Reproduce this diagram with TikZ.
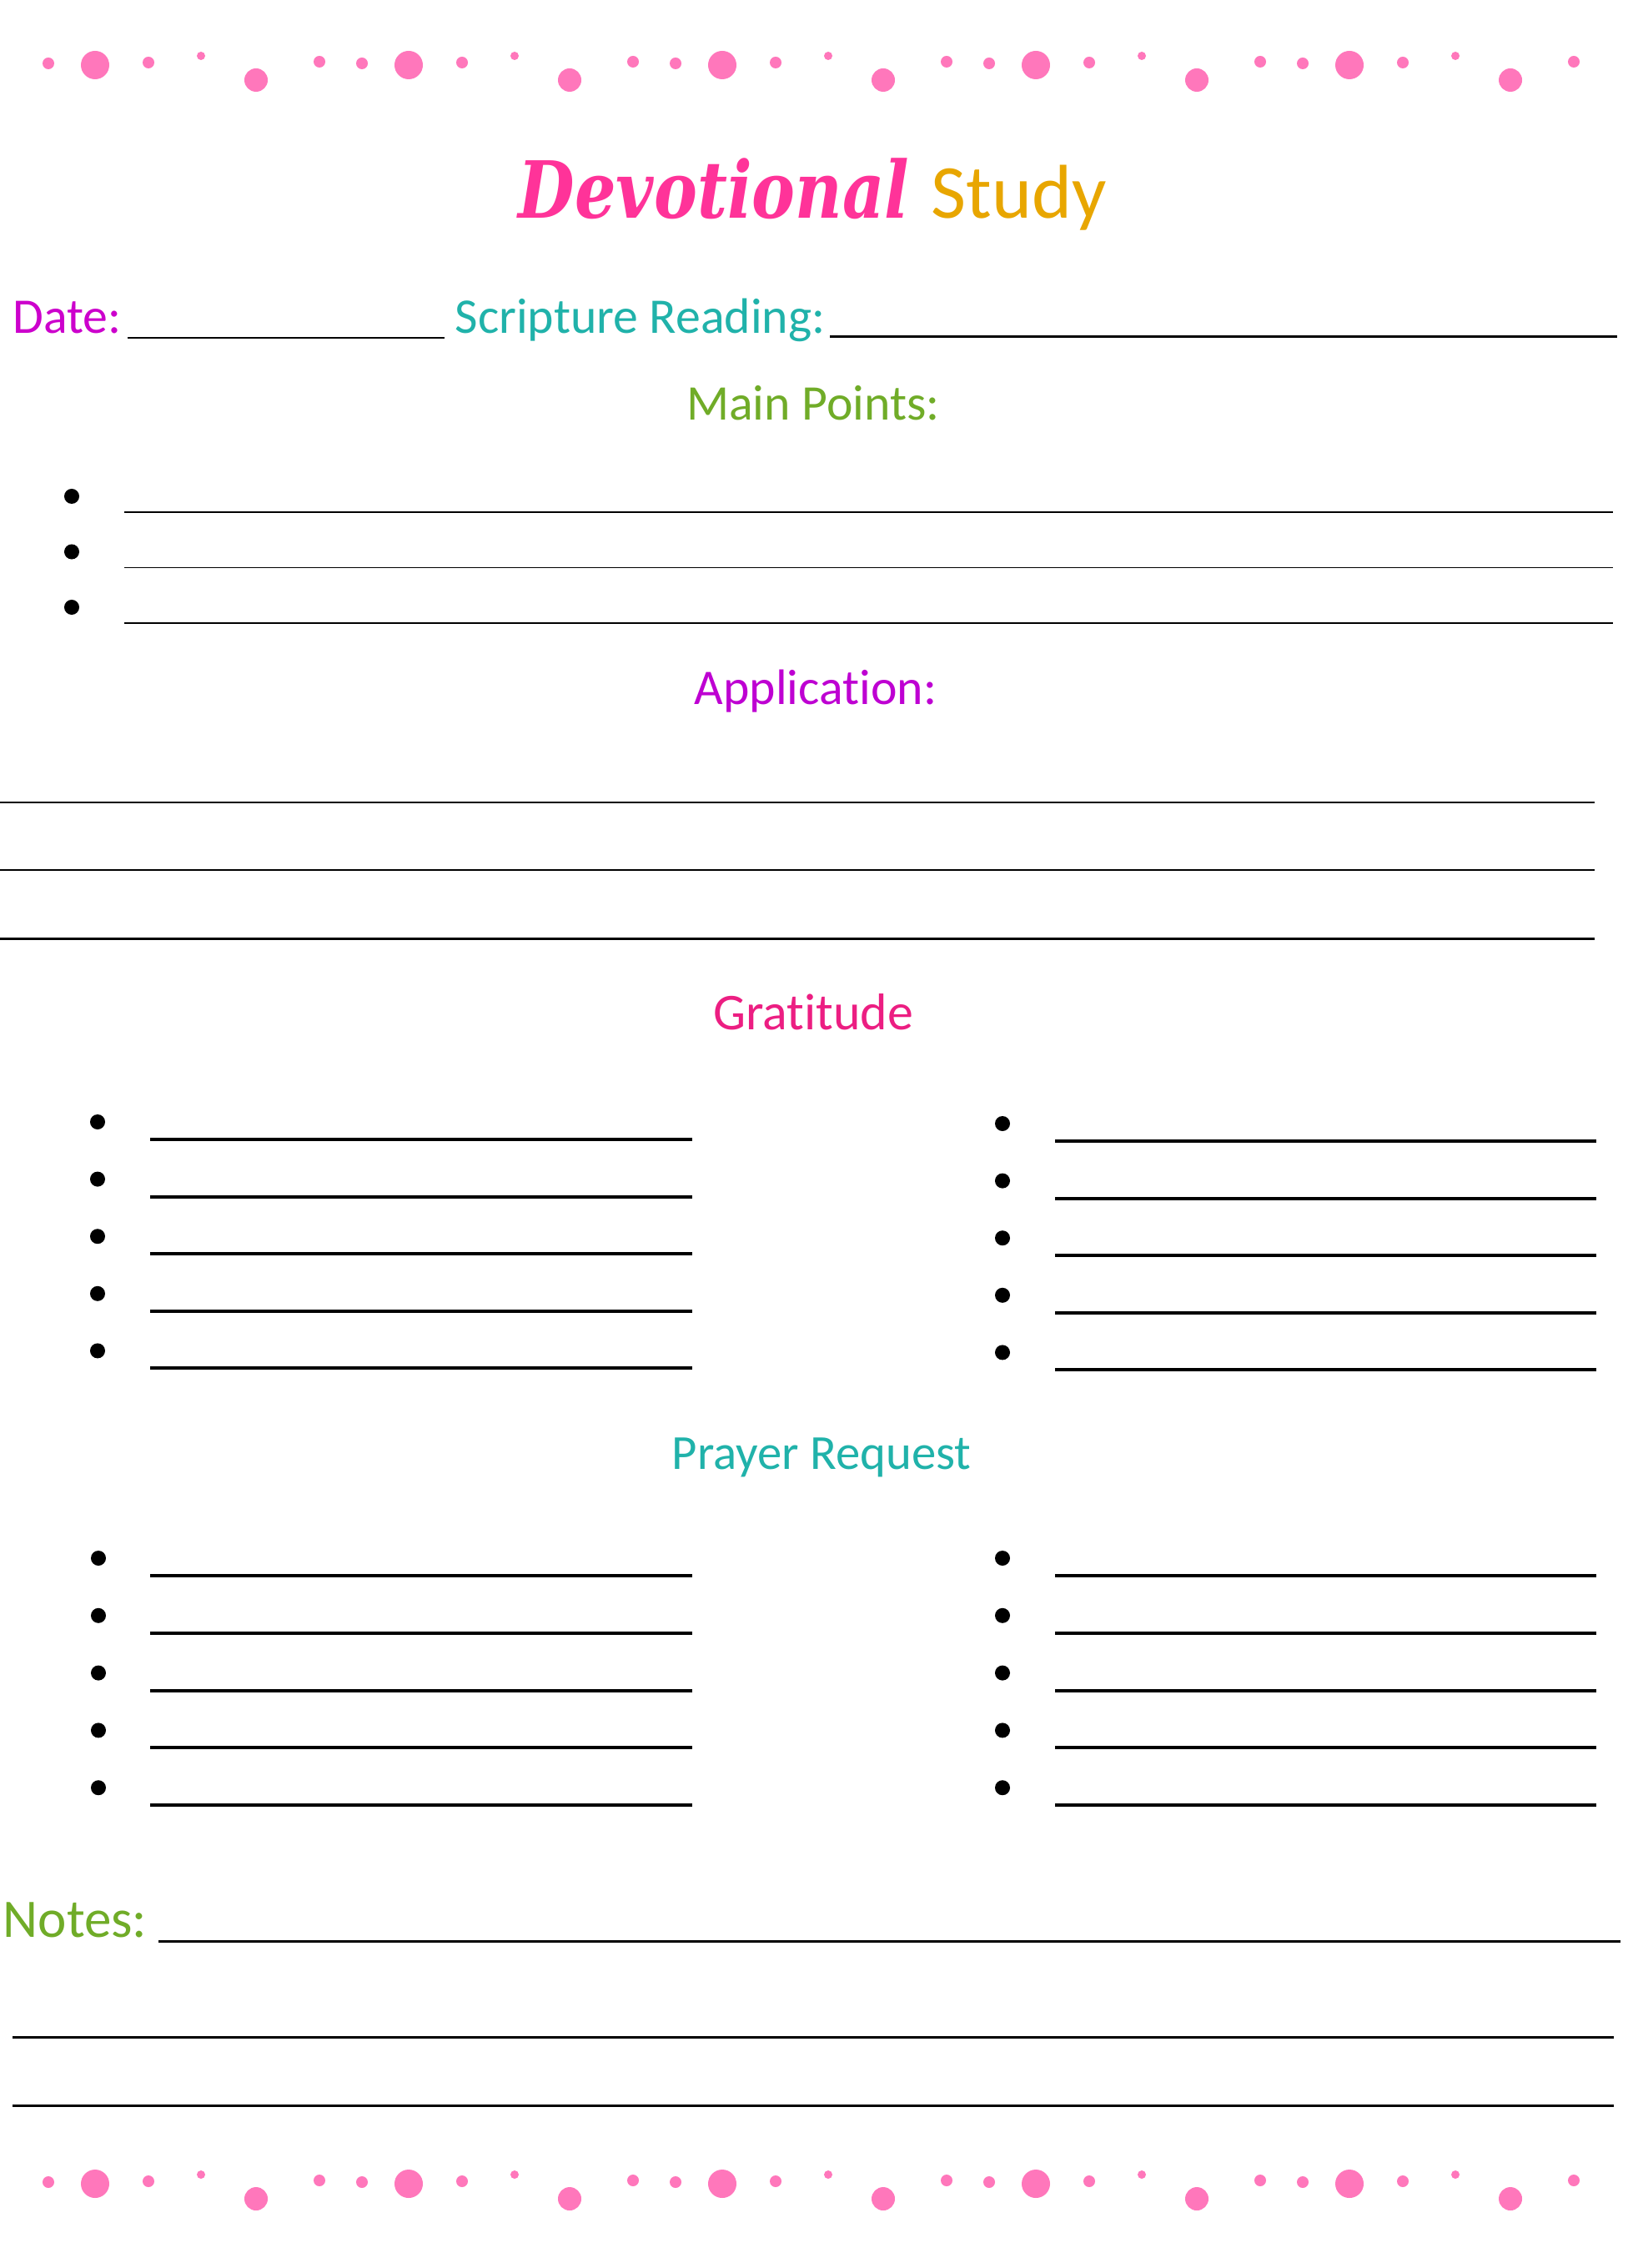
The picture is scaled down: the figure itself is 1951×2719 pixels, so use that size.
\documentclass[tikz,border=0pt]{standalone}
\usepackage{fontspec}
\setmainfont[Ligatures=NoCommon]{Carlito}
\newfontfamily\titlefont{DejaVu Serif}
\usetikzlibrary{positioning}

\definecolor{dotpink}{RGB}{255,119,187}
\definecolor{devpink}{RGB}{255,51,153}
\definecolor{studygold}{RGB}{232,166,0}
\definecolor{datepurple}{RGB}{204,0,204}
\definecolor{teal}{RGB}{32,178,170}
\definecolor{leafgreen}{RGB}{112,172,40}
\definecolor{applpurple}{RGB}{190,0,210}
\definecolor{gratpink}{RGB}{236,30,130}

\begin{document}
\begin{tikzpicture}[
  x=0.01cm, y=-0.01cm,
  every node/.style={inner sep=0pt},
  label/.style={anchor=base west, font=\fontsize{17}{20}\selectfont},
  heading/.style={anchor=base, font=\fontsize{17}{20}\selectfont},
  bigheading/.style={anchor=base, font=\fontsize{17.6}{21}\selectfont},
  bullet/.style={circle, fill=black, inner sep=0pt, minimum size=0.18cm},
  dot/.style={fill=dotpink},
  thinline/.style={line width=0.45pt},
  writeline/.style={line width=0.85pt},
  boldline/.style={line width=1.15pt}
]

\useasboundingbox[fill=white] (0,0) rectangle (1951,2719);

% dotted borders, top and bottom
\foreach \k in {0,...,4} {
  \foreach \dx/\dy/\r in {-56/76/7, 0/78/17, 64/75/7, 127/67/5, 193/96/14, 269/74/7} {
    \fill[dot] (114+376*\k+\dx, \dy) circle[radius=\r];
    \fill[dot] (114+376*\k+\dx, \dy+2540) circle[radius=\r];
  }
}

% title
\node[anchor=base east, text=devpink, font=\titlefont\bfseries\itshape\fontsize{21.5}{24}\selectfont] (devotional) at (1091,262) {\scalebox{1.03}[1.25]{Devotional}};
\node[anchor=base west, text=studygold, font=\fontsize{26}{30}\selectfont] (study) at (1116,262) {Study};

% date and reading
\node[label, text=datepurple] (date) at (15,400) {Date:};
\node[label, text=teal] (scripture) at (545,400) {Scripture Reading:};
\draw[thinline] (153,405) -- (533,405);
\draw[writeline] (995,404) -- (1939,404);

% main points
\node[heading, text=leafgreen] (mainpoints) at (975,504) {Main Points:};
\foreach \i in {0,1,2} {
  \node[bullet] (m\i) at (86,595+66.5*\i) {};
  \draw[thinline] (149,614+66.5*\i) -- (1934,614+66.5*\i);
}

% application
\node[heading, text=applpurple] (application) at (978,844) {Application:};
\foreach \y in {962,1043,1125}
  \draw[writeline] (0,\y) -- (1912,\y);

% gratitude
\node[bigheading, text=gratpink] (gratitude) at (975,1234) {Gratitude};
\foreach \i in {0,...,4} {
  \node[bullet] (gl\i) at (117,1345+68.6*\i) {};
  \node[bullet] (gr\i) at (1202,1347+68.6*\i) {};
  \draw[boldline] (180,1366+68.6*\i) -- (830,1366+68.6*\i);
  \draw[boldline] (1265,1368+68.6*\i) -- (1914,1368+68.6*\i);
}

% prayer request
\node[heading, text=teal, font=\fontsize{16.7}{20}\selectfont] (prayer) at (985,1761) {Prayer Request};
\foreach \i in {0,...,4} {
  \node[bullet] (pl\i) at (118,1868+68.8*\i) {};
  \node[bullet] (pr\i) at (1202,1868+68.8*\i) {};
  \draw[boldline] (180,1889+68.8*\i) -- (830,1889+68.8*\i);
  \draw[boldline] (1265,1889+68.8*\i) -- (1914,1889+68.8*\i);
}

% notes
\node[anchor=base west, text=leafgreen, font=\fontsize{18.5}{22}\selectfont] (notes) at (3,2322) {Notes:};
\draw[writeline] (190,2327) -- (1943,2327);
\foreach \y in {2442,2524}
  \draw[writeline] (15,\y) -- (1935,\y);

\end{tikzpicture}
\end{document}
